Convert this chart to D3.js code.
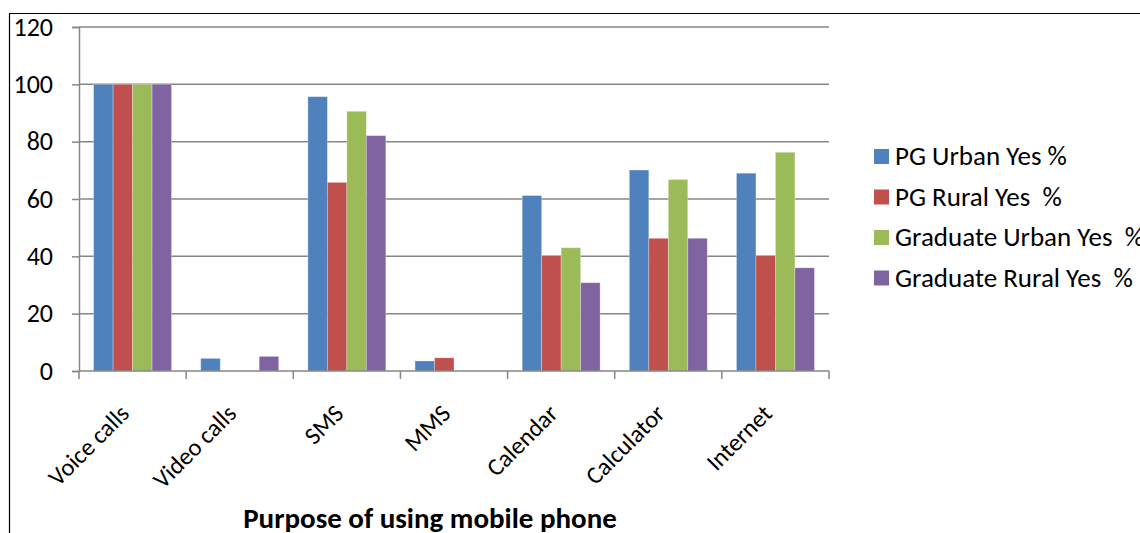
<!DOCTYPE html>
<html>
<head>
<meta charset="utf-8">
<script src="https://cdn.jsdelivr.net/npm/d3@7"></script>
<style>
  html, body { margin: 0; padding: 0; background: #fff; }
  svg { display: block; }
  text { font-family: Carlito, "Open Sans", "Noto Sans", sans-serif; fill: #000; white-space: pre; }
</style>
</head>
<body>
<svg id="chart" width="1140" height="533"></svg>
<script>
// Purpose of using mobile phone, share answering "Yes" (%) per group
const categories = ["Voice calls", "Video calls", "SMS", "MMS", "Calendar", "Calculator", "Internet"];
const seriesNames = ["PG Urban Yes %", "PG Rural Yes  %", "Graduate Urban Yes  %", "Graduate Rural Yes  %"];
const pgUrban       = [100, 4.4, 95.7, 3.5, 61.2, 70.1, 69.0];
const pgRural       = [100, 0,   65.8, 4.6, 40.3, 46.3, 40.3];
const gradUrban     = [100, 0,   90.6, 0,   43.0, 66.8, 76.3];
const gradRural     = [100, 5.1, 82.1, 0,   30.8, 46.3, 36.0];
const yTicks = [0, 20, 40, 60, 80, 100, 120];
const colors = ["#4F81BD", "#C0504D", "#9BBB59", "#8064A2"];
const xTitle = "Purpose of using mobile phone";

const series = [pgUrban, pgRural, gradUrban, gradRural];

const svg = d3.select("#chart");

// outer chart frame
svg.append("path")
  .attr("d", "M9.5,533 V13.5 H1140")
  .attr("fill", "none").attr("stroke", "#000").attr("stroke-width", 1.2);

const plot = { left: 79, right: 829, top: 27, bottom: 371 };

const x = d3.scaleBand().domain(categories).range([plot.left, plot.right]).paddingInner(0).paddingOuter(0);
// four bars per category with a gap of 1.5 bar widths between groups
const inner = d3.scaleBand().domain(d3.range(series.length))
  .range([0, x.bandwidth()]).paddingInner(0).paddingOuter(0.75);
const y = d3.scaleLinear().domain([0, 120]).range([plot.bottom, plot.top]);

const gridColor = "#868686";

// horizontal gridlines
svg.append("g").selectAll("line").data(yTicks.filter(d => d > 0)).join("line")
  .attr("x1", plot.left).attr("x2", plot.right)
  .attr("y1", d => y(d)).attr("y2", d => y(d))
  .attr("stroke", gridColor).attr("stroke-width", 1.5);

// bars
const groups = svg.append("g").selectAll("g").data(categories).join("g")
  .attr("transform", d => `translate(${x(d)},0)`);
groups.selectAll("rect")
  .data((c, ci) => series.map((s, si) => ({ si, v: s[ci] })).filter(d => d.v > 0))
  .join("rect")
  .attr("x", d => inner(d.si))
  .attr("width", inner.bandwidth())
  .attr("y", d => y(d.v))
  .attr("height", d => y(0) - y(d.v))
  .attr("fill", d => colors[d.si])
  .attr("stroke", "rgba(255,255,255,0.35)").attr("stroke-width", 0.8);

// y axis
const yAxis = svg.append("g").attr("transform", `translate(${plot.left},0)`)
  .call(d3.axisLeft(y).tickValues(yTicks).tickSize(7).tickPadding(19));
yAxis.select(".domain").attr("stroke", gridColor).attr("stroke-width", 1.5);
yAxis.selectAll(".tick line").attr("stroke", gridColor).attr("stroke-width", 1.5);
yAxis.selectAll(".tick text").attr("font-size", 26).attr("font-family", "Carlito, 'Open Sans', sans-serif").attr("fill", "#000");

// x axis with ticks at category boundaries
const boundaries = categories.map(c => x(c)).concat([plot.right]);
svg.append("line")
  .attr("x1", plot.left).attr("x2", plot.right)
  .attr("y1", plot.bottom).attr("y2", plot.bottom)
  .attr("stroke", gridColor).attr("stroke-width", 1.5);
svg.append("g").selectAll("line").data(boundaries).join("line")
  .attr("x1", d => d).attr("x2", d => d)
  .attr("y1", plot.bottom).attr("y2", plot.bottom + 8)
  .attr("stroke", gridColor).attr("stroke-width", 1.5);

// rotated category labels
svg.append("g").selectAll("text").data(categories).join("text")
  .attr("transform", d => `translate(${x(d) + x.bandwidth() / 2 - 8},${plot.bottom + 38}) rotate(-45)`)
  .attr("text-anchor", "end")
  .attr("dy", "0.35em")
  .attr("font-size", 24.5)
  .text(d => d);

// axis title
svg.append("text")
  .attr("x", 430).attr("y", 528)
  .attr("text-anchor", "middle")
  .attr("font-size", 29).attr("font-weight", "bold")
  .text(xTitle);

// legend
const legend = svg.append("g").attr("transform", "translate(874,156.5)");
const items = legend.selectAll("g").data(seriesNames).join("g")
  .attr("transform", (d, i) => `translate(0,${i * 40.5})`);
items.append("rect").attr("x", 0).attr("y", -7.5).attr("width", 15).attr("height", 15)
  .attr("fill", (d, i) => colors[i]);
items.append("text").attr("x", 21).attr("y", 0).attr("dy", "0.33em")
  .attr("font-size", 27).text(d => d);
</script>
</body>
</html>
